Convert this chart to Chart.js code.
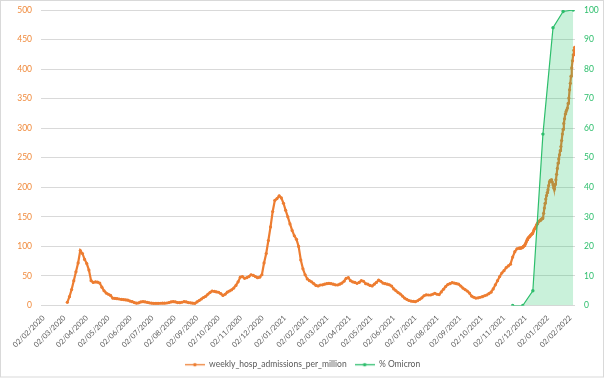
<!DOCTYPE html>
<html><head><meta charset="utf-8">
<script src="https://cdn.jsdelivr.net/npm/chart.js@4"></script>
<style>html,body{margin:0;padding:0;background:#fff}#wrap{width:605px;height:379px}</style>
</head><body><div id="wrap"><canvas id="c" width="605" height="379"></canvas></div>
<script>
const tickLabels = ['02/02/2020','02/03/2020','02/04/2020','02/05/2020','02/06/2020','02/07/2020','02/08/2020','02/09/2020','02/10/2020','02/11/2020','02/12/2020','02/01/2021','02/02/2021','02/03/2021','02/04/2021','02/05/2021','02/06/2021','02/07/2021','02/08/2021','02/09/2021','02/10/2021','02/11/2021','02/12/2021','02/01/2022','02/02/2022'];

// weekly_hosp_admissions_per_million, every 3 days from 2020-03-06
const hospEarlyStart = '2020-03-06';
const hospEarlyStep = 3;
const hospEarlyValues = [
 5.4, 15, 27, 42, 57, 72, 93, 88, 78, 71,
 60, 42, 39, 40, 39.5, 38, 31, 25, 21, 19,
 17, 12.5, 12, 11.5, 11, 10.5, 10, 9.5, 9, 7.5,
 6.5, 5, 4, 4.5, 6, 6.5, 6, 5.4, 4.5, 4,
 3.7, 3.7, 3.7, 3.8, 4, 4, 4.2, 5, 6, 6.5,
 6, 5, 4.8, 5.5, 6.5, 6, 5, 4.5, 4, 3.7,
 6, 8.5, 11, 13.5, 15.5, 19, 22, 24.5, 24, 23,
 22.4, 20, 17, 19, 22.5, 24.5, 26.5, 29.5, 34, 40,
 48, 49, 46, 47, 49, 52, 51, 49, 47, 48,
 52, 72, 88, 110, 133, 159, 178, 181, 185.6, 182,
 173, 161, 150, 138, 127, 118, 112, 100, 77, 62,
 52, 45, 42, 40, 37, 34, 33, 34.7, 35, 36,
 37, 37.5, 37, 36, 35, 34.7, 36, 38, 41, 46,
 47, 42, 40, 39, 37.5, 39, 42, 41, 37, 36,
 34, 33, 36, 39, 43, 41, 38, 37, 36, 35,
 33, 28, 25, 22, 19.5, 16, 12.5, 10.5, 8.5, 7.5,
 7, 6.5, 8, 10.5, 13, 16.5, 18, 17.8, 17.8, 19,
 20.7, 19, 18.5, 23, 27.5, 32, 35.5, 37, 38.6, 38,
 37, 36, 33, 29.5, 27, 24.5, 21, 16, 14, 12.5,
 13, 14, 15, 16.5, 17.8, 20, 22.5, 28, 35, 42,
 49, 55, 59, 64, 67, 70, 82, 91, 96, 97
];
// daily from 2021-11-24
const hospLateStart = '2021-11-24';
const hospLateValues = [
 97, 97, 97.5, 98, 99, 100, 101, 102.5, 105, 108,
 111, 113, 115, 116, 117.5, 119, 120, 121.5, 123, 126,
 129, 131, 133, 136, 138, 140, 142, 143, 144, 145,
 146, 147, 148, 156, 165, 173, 180, 186, 191, 196,
 203, 209, 211.5, 212, 212.7, 209, 204, 199, 197, 205,
 212.7, 222, 232, 241, 248, 255, 262, 269, 279, 290,
 298, 308, 316, 324, 328, 331, 334, 342, 351, 365,
 376, 388, 402, 414, 424, 432, 437
];
// % Omicron, every 14 days from 2021-11-14
const omicronStart = '2021-11-14';
const omicronStep = 14;
const omicronValues = [0, 0, 5, 58, 94, 99.5, 100];

const leftTicks = [0, 50, 100, 150, 200, 250, 300, 350, 400, 450, 500];
const rightTicks = [0, 10, 20, 30, 40, 50, 60, 70, 80, 90, 100];

const BASE = Date.UTC(2020, 1, 2);
function dayOf(iso){ const [y,m,d] = iso.split('-').map(Number); return (Date.UTC(y,m-1,d)-BASE)/86400000; }
function dayOfLabel(l){ const [d,m,y] = l.split('/').map(Number); return (Date.UTC(y,m-1,d)-BASE)/86400000; }

const hospData = hospEarlyValues.map((v,i)=>({x: dayOf(hospEarlyStart)+hospEarlyStep*i, y: v}))
  .concat(hospLateValues.map((v,i)=>({x: dayOf(hospLateStart)+i, y: v})));
const omiData = omicronValues.map((v,i)=>({x: dayOf(omicronStart)+omicronStep*i, y: v}));
const tickDays = tickLabels.map(dayOfLabel);

const ORANGE = '#ED7D31', GREEN = '#2DBE6C';
function legendIcon(color){
  const c = document.createElement('canvas'); c.width = 20; c.height = 7;
  const g = c.getContext('2d');
  g.strokeStyle = color; g.lineWidth = 1.3;
  g.beginPath(); g.moveTo(0,3.5); g.lineTo(20,3.5); g.stroke();
  g.fillStyle = color; g.beginPath(); g.arc(10,3.5,1.8,0,Math.PI*2); g.fill();
  return c;
}
const icons = [legendIcon(ORANGE), legendIcon(GREEN)];

const frame = {
  id: 'frame',
  beforeDraw(chart){ const g = chart.ctx; g.save(); g.fillStyle = '#fff'; g.fillRect(0,0,chart.width,chart.height); g.restore(); },
  afterDraw(chart){ const g = chart.ctx; g.save(); g.strokeStyle = '#D9D9D9'; g.lineWidth = 1; g.strokeRect(0.5,0.5,603,376.5); g.restore(); }
};

const FONT = 'Lato, "Noto Sans", sans-serif';
new Chart(document.getElementById('c'), {
  type: 'line',
  data: { datasets: [
    { label: 'weekly_hosp_admissions_per_million', data: hospData, yAxisID: 'y', order: 1,
      borderColor: ORANGE, backgroundColor: ORANGE, borderWidth: 2.2, pointRadius: 1.6, pointBorderWidth: 0,
      pointBackgroundColor: ORANGE, fill: false, tension: 0 },
    { label: '% Omicron', data: omiData, yAxisID: 'y1', order: 0,
      borderColor: GREEN, backgroundColor: 'rgba(38,201,109,0.25)', borderWidth: 1.2, pointRadius: 1.7, pointBorderWidth: 0,
      pointBackgroundColor: GREEN, fill: 'origin', tension: 0 }
  ]},
  options: {
    responsive: false, animation: false, devicePixelRatio: 1,
    layout: { padding: { top: 10, left: 0, right: 0, bottom: 0 } },
    plugins: {
      tooltip: { enabled: false },
      legend: { position: 'bottom',
        labels: { color: '#595959', font: { family: FONT, size: 8.5 }, usePointStyle: true, pointStyleWidth: 20, boxHeight: 8, padding: 8,
          generateLabels(chart){
            const items = Chart.defaults.plugins.legend.labels.generateLabels(chart);
            items.sort((a,b)=>a.datasetIndex-b.datasetIndex);
            items.forEach(it=>{ it.pointStyle = icons[it.datasetIndex]; });
            return items;
          } } }
    },
    scales: {
      x: { type: 'linear', min: -3.5, max: 737.5,
        afterBuildTicks(s){ s.ticks = tickDays.map(v=>({value: v})); },
        afterFit(s){ s.height = 47; },
        grid: { display: false, drawTicks: false }, border: { display: false },
        ticks: { autoSkip: false, minRotation: 45, maxRotation: 45, padding: 8, color: '#595959', font: { family: FONT, size: 7.5 },
          callback(v, i){ return tickLabels[i]; } } },
      y: { position: 'left', min: 0, max: 500,
        afterBuildTicks(s){ s.ticks = leftTicks.map(v=>({value: v})); },
        afterFit(s){ s.width = 41; s.paddingTop = 0; s.paddingBottom = 0; },
        grid: { color: '#D9D9D9', drawTicks: false }, border: { display: false },
        ticks: { padding: 9, color: '#F08A3C', font: { family: FONT, size: 8.5 } } },
      y1: { position: 'right', min: 0, max: 100,
        afterBuildTicks(s){ s.ticks = rightTicks.map(v=>({value: v})); },
        afterFit(s){ s.width = 30; s.paddingTop = 0; s.paddingBottom = 0; },
        grid: { display: false, drawTicks: false }, border: { display: false },
        ticks: { padding: 9, color: '#2DBE6C', font: { family: FONT, size: 8.5 } } }
    }
  },
  plugins: [frame]
});
</script></body></html>
